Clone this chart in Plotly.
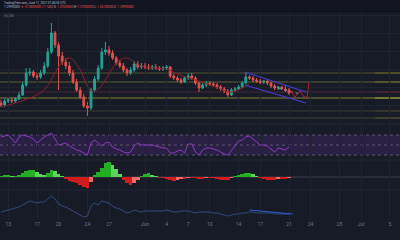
import plotly.graph_objects as go
from plotly.subplots import make_subplots
import pandas as pd

# ---------------- data ----------------
dates = pd.date_range("2021-05-12 00:00", periods=81, freq="12h")

opens = [1.25,1.23,1.27,1.28,1.27,1.29,1.33,1.43,1.55,1.56,
         1.52,1.51,1.55,1.62,1.76,1.95,1.83,1.72,1.66,1.62,
         1.55,1.46,1.38,1.31,1.22,1.20,1.38,1.49,1.60,1.76,
         1.78,1.75,1.70,1.65,1.62,1.58,1.55,1.58,1.64,1.61,
         1.62,1.61,1.60,1.61,1.60,1.59,1.60,1.61,1.52,1.50,
         1.48,1.46,1.50,1.52,1.50,1.45,1.40,1.43,1.45,1.44,
         1.43,1.41,1.39,1.37,1.33,1.38,1.39,1.41,1.45,1.51,
         1.50,1.48,1.47,1.46,1.47,1.45,1.42,1.40,1.41,1.39,
         1.38]
highs = [1.28,1.29,1.30,1.30,1.31,1.36,1.46,1.60,1.60,1.58,
         1.55,1.58,1.66,1.80,2.05,1.97,1.86,1.76,1.70,1.66,
         1.58,1.49,1.41,1.34,1.26,1.40,1.52,1.63,1.80,1.86,
         1.82,1.78,1.72,1.68,1.65,1.60,1.61,1.67,1.67,1.65,
         1.65,1.64,1.63,1.64,1.62,1.62,1.63,1.62,1.54,1.52,
         1.50,1.52,1.55,1.55,1.52,1.46,1.45,1.47,1.47,1.46,
         1.45,1.43,1.41,1.39,1.40,1.41,1.43,1.47,1.55,1.53,
         1.52,1.50,1.49,1.48,1.48,1.46,1.44,1.42,1.42,1.42,
         1.40]
lows = [1.21,1.21,1.25,1.25,1.25,1.28,1.32,1.41,1.52,1.50,
        1.48,1.49,1.53,1.60,1.74,1.80,1.38,1.63,1.59,1.52,
        1.44,1.36,1.29,1.20,1.12,1.18,1.36,1.47,1.58,1.73,
        1.72,1.68,1.63,1.60,1.56,1.52,1.53,1.56,1.59,1.59,
        1.59,1.58,1.58,1.58,1.57,1.57,1.58,1.50,1.48,1.46,
        1.44,1.45,1.48,1.48,1.43,1.36,1.39,1.41,1.42,1.41,
        1.39,1.37,1.35,1.31,1.32,1.36,1.38,1.40,1.44,1.48,
        1.46,1.45,1.44,1.44,1.43,1.40,1.38,1.38,1.38,1.36,
        1.33]
closes = [1.23,1.27,1.28,1.27,1.29,1.33,1.43,1.55,1.56,1.52,
          1.51,1.55,1.62,1.76,1.95,1.83,1.72,1.66,1.62,1.55,
          1.46,1.38,1.31,1.22,1.20,1.38,1.49,1.60,1.76,1.78,
          1.75,1.70,1.65,1.62,1.58,1.55,1.58,1.64,1.61,1.62,
          1.61,1.60,1.61,1.60,1.59,1.60,1.61,1.52,1.50,1.48,
          1.46,1.50,1.52,1.50,1.45,1.40,1.43,1.45,1.44,1.43,
          1.41,1.39,1.37,1.33,1.38,1.39,1.41,1.45,1.51,1.50,
          1.48,1.47,1.46,1.47,1.45,1.42,1.40,1.41,1.39,1.38,
          1.35]

ma_idx = [0,4,8,12,15,17,19,20,22,24,25,27,29,31,33,35,37,39,43,46,49,52,55,58,61,63,65,67,69]
ma_vals = [1.21,1.25,1.30,1.38,1.55,1.66,1.70,1.68,1.58,1.42,1.37,1.39,1.48,1.60,1.68,
           1.70,1.66,1.62,1.60,1.59,1.54,1.50,1.47,1.43,1.39,1.36,1.37,1.40,1.44]

levels = [1.55, 1.46, 1.36, 1.30, 1.17, 1.10]
level_colors = ["#55552f", "#5f5f33", "#4a2634", "#86853a", "#3b3b30", "#45452f"]

chan_upper_x = ["2021-06-14 21:00", "2021-06-23 08:40"]
chan_upper_y = [1.56, 1.36]
chan_lower_x = ["2021-06-14 21:00", "2021-06-23 08:40"]
chan_lower_y = [1.43, 1.25]

zig_x = ["2021-06-21 03:20", "2021-06-21 20:00", "2021-06-22 12:40",
         "2021-06-23 02:00", "2021-06-23 12:00", "2021-06-23 18:40"]
zig_y = [1.38, 1.31, 1.37, 1.31, 1.31, 1.46]

proj_x = ["2021-06-19 12:00", "2021-06-22 12:00"]
proj_y = [1.40, 1.34]

rsi = [66,68,70,62,54,66,70,68,66,62,
       54,60,66,70,74,62,50,52,54,48,
       44,40,38,34,30,54,60,54,48,54,
       56,46,42,40,36,34,36,48,54,50,
       50,50,50,48,46,44,44,34,34,38,
       40,34,52,52,36,30,40,44,44,42,
       40,36,32,30,38,48,58,60,66,68,
       62,56,50,50,48,42,36,44,42,40,
       46]

hist = [1,2,2,1,1,2,4,6,7,7,
        5,3,2,4,7,6,3,1,-2,-4,
        -5,-6,-8,-10,-11,-5,2,5,9,14,
        15,12,8,3,-3,-6,-8,-6,-3,1,
        3,4,2,1,-1,-1,-2,-3,-4,-3,
        -2,-2,-1,-1,-1,-2,-2,-1,-1,-1,
        -2,-3,-3,-3,-1,1,2,3,4,4,
        3,1,-1,-2,-3,-3,-3,-2,-2,-2,
        -1]

lower = [8,9,10,11,12,13,15,17,19,18,
         17,18,18,21,24,21,16,14,13,11,
         9,7,5,3,4,14,17,15,19,18,
         17,14,12,11,9,7,8,10,9,8,
         9,9,9,9,9,9,10,9,8,8,
         9,9,9,8,7,8,8,8,8,7,
         7,6,5,4,5,6,6,7,7,8,
         8,7,7,7,7,7,6,6,6,6,
         6]
lower_trend_x = ["2021-06-15 12:00", "2021-06-21 12:00"]
lower_trend_y = [10, 6]

tick_dates = ["2021-05-13","2021-05-17","2021-05-20","2021-05-24","2021-05-27","2021-06-01",
              "2021-06-04","2021-06-07","2021-06-10","2021-06-14","2021-06-17","2021-06-21",
              "2021-06-24","2021-06-28","2021-07-01","2021-07-05"]
tick_text = ["13","17","20","24","27","Jun","4","7","10","14","17","21","24","28","Jul","5"]

price_grid = [2.13, 1.95, 1.77, 1.59, 1.41, 1.23, 1.05]

header1 = "TradingView.com, June 11, 2021 07:45:36 UTC"
header2 = ('1.29990000 <span style="color:#ef5350">▼ -0.10000000 (-7.14%)</span> '
           'O: <span style="color:#ef5350">1.37000000</span> H: <span style="color:#ef5350">1.37000000</span> '
           'L: <span style="color:#ef5350">1.26100000</span> C: <span style="color:#ef5350">1.29990000</span>')

# ---------------- figure ----------------
BG = "#171b26"
GRID = "#1f2330"
X_RANGE = ["2021-05-11 20:40", "2021-07-06 10:00"]

fig = make_subplots(rows=4, cols=1, shared_xaxes=True, vertical_spacing=0,
                    row_heights=[112, 36, 30, 30])

fig.add_trace(go.Candlestick(x=dates, open=opens, high=highs, low=lows, close=closes,
                             increasing=dict(line=dict(color="#24a394", width=1), fillcolor="#24a394"),
                             decreasing=dict(line=dict(color="#e2514f", width=1), fillcolor="#e2514f"),
                             whiskerwidth=0, hoverinfo="skip"), row=1, col=1)
fig.add_trace(go.Scatter(x=[dates[i] for i in ma_idx], y=ma_vals, mode="lines",
                         line=dict(color="#8a1f2b", width=1, shape="spline"), hoverinfo="skip"), row=1, col=1)
fig.add_trace(go.Scatter(x=chan_upper_x, y=chan_upper_y, mode="lines",
                         line=dict(color="#4b3bd1", width=1.2), hoverinfo="skip"), row=1, col=1)
fig.add_trace(go.Scatter(x=chan_lower_x, y=chan_lower_y, mode="lines",
                         line=dict(color="#4b3bd1", width=1.2), hoverinfo="skip"), row=1, col=1)
fig.add_trace(go.Scatter(x=proj_x, y=proj_y, mode="lines",
                         line=dict(color="#8a8e99", width=1, dash="dot"), hoverinfo="skip"), row=1, col=1)
fig.add_trace(go.Scatter(x=zig_x, y=zig_y, mode="lines",
                         line=dict(color="#b0202e", width=1), hoverinfo="skip"), row=1, col=1)

fig.add_trace(go.Scatter(x=dates, y=rsi, mode="lines",
                         line=dict(color="#8a3cc0", width=1), hoverinfo="skip"), row=2, col=1)

bar_colors = []
for k, v in enumerate(hist):
    prev = hist[k - 1] if k > 0 else 0
    if v >= 0:
        bar_colors.append("#22b022" if v >= prev else "#5fcf5f")
    else:
        bar_colors.append("#d01c1c" if v <= prev else "#ee6a6a")
fig.add_trace(go.Bar(x=dates, y=hist, marker=dict(color=bar_colors, line=dict(width=0)),
                     hoverinfo="skip"), row=3, col=1)

fig.add_trace(go.Scatter(x=dates, y=lower, mode="lines",
                         line=dict(color="#2f4b78", width=1), hoverinfo="skip"), row=4, col=1)
fig.add_trace(go.Scatter(x=lower_trend_x, y=lower_trend_y, mode="lines",
                         line=dict(color="#2e5fd6", width=1.2), hoverinfo="skip"), row=4, col=1)

def py(p):
    return (220 - p) / 208.0

shapes = []
# header band
shapes.append(dict(type="rect", xref="paper", yref="paper", x0=0, x1=1, y0=py(11.5), y1=py(0),
                   fillcolor="#12151f", line=dict(width=0), layer="below"))
shapes.append(dict(type="line", xref="paper", yref="paper", x0=0, x1=1, y0=py(11.5), y1=py(11.5),
                   line=dict(color="#0d1018", width=1)))
# horizontal levels
for lv, col in zip(levels, level_colors):
    shapes.append(dict(type="line", xref="paper", yref="y", x0=0, x1=1, y0=lv, y1=lv,
                       line=dict(color=col, width=1), layer="below"))
    shapes.append(dict(type="line", xref="paper", yref="y", x0=375 / 400, x1=1, y0=lv, y1=lv,
                       line=dict(color=col, width=1.4), layer="below"))
# RSI band
shapes.append(dict(type="rect", xref="paper", yref="y2", x0=0, x1=1, y0=30, y1=70,
                   fillcolor="rgba(120,50,190,0.2)", line=dict(width=0), layer="below"))
for lv in [30, 50, 70]:
    shapes.append(dict(type="line", xref="paper", yref="y2", x0=0, x1=1, y0=lv, y1=lv,
                       line=dict(color="#5e5870", width=1, dash="dot"), layer="below"))
# panel separators
for p in [124, 160, 190]:
    shapes.append(dict(type="line", xref="paper", yref="paper", x0=0, x1=1, y0=py(p), y1=py(p),
                       line=dict(color="#232733", width=1), layer="below"))
# MACD zero line
shapes.append(dict(type="line", xref="paper", yref="y3", x0=0, x1=1, y0=0, y1=0,
                   line=dict(color="#3a3e4a", width=1), layer="below"))

annotations = [
    dict(text=header1, xref="paper", yref="paper", x=0.005, y=py(2.8), xanchor="left", yanchor="middle",
         showarrow=False, font=dict(size=3, color="#b8bcc8")),
    dict(text=header2, xref="paper", yref="paper", x=0.005, y=py(7.2), xanchor="left", yanchor="middle",
         showarrow=False, font=dict(size=3, color="#b8bcc8")),
    dict(text="50, 200", xref="paper", yref="paper", x=0.005, y=py(15.5), xanchor="left", yanchor="middle",
         showarrow=False, font=dict(size=3, color="#7b7f8b")),
]

fig.update_layout(
    width=400, height=240,
    margin=dict(l=0, r=0, t=12, b=20),
    paper_bgcolor=BG, plot_bgcolor=BG,
    showlegend=False, bargap=0,
    font=dict(family="Roboto", color="#7b7f8b"),
    shapes=shapes, annotations=annotations,
)
fig.update_xaxes(range=X_RANGE, showgrid=True, gridcolor=GRID, gridwidth=1, zeroline=False,
                 showline=False, ticks="", tickvals=tick_dates, ticktext=tick_text,
                 rangeslider_visible=False)
fig.update_xaxes(tickfont=dict(size=5, color="#6f7380"), row=4, col=1)
fig.update_yaxes(showticklabels=False, zeroline=False, showline=False, ticks="")
fig.update_yaxes(range=[1.04, 2.16], tickvals=price_grid, showgrid=True, gridcolor=GRID, row=1, col=1)
fig.update_yaxes(range=[20, 92], showgrid=False, row=2, col=1)
fig.update_yaxes(range=[-13, 17], showgrid=False, row=3, col=1)
fig.update_yaxes(range=[0, 30], showgrid=False, row=4, col=1)

fig.write_html("out.html")
